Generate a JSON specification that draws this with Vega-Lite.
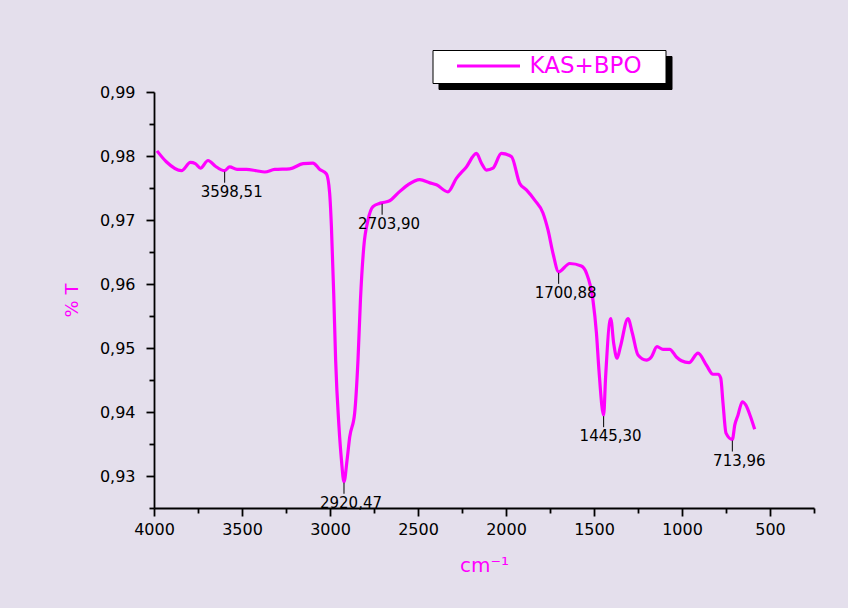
{
  "$schema": "https://vega.github.io/schema/vega-lite/v6.json",
  "autosize": "none",
  "width": 660,
  "height": 416,
  "padding": {"left": 154, "top": 92, "right": 34, "bottom": 100},
  "background": "#E4DFEC",
  "config": {
    "view": {"stroke": null},
    "font": "DejaVu Sans",
    "axis": {"grid": false, "domainColor": "black", "domainWidth": 1.8, "tickColor": "black", "tickWidth": 1.8, "labelFont": "DejaVu Sans", "labelColor": "black", "titleFont": "DejaVu Sans", "titleFontWeight": "normal", "titleColor": "#FF00FF"}
  },
  "datasets": {
    "spectrum": [
      {"wn": 3983, "t": 0.9808, "series": "KAS+BPO"},
      {"wn": 3930, "t": 0.9791, "series": "KAS+BPO"},
      {"wn": 3844, "t": 0.9777, "series": "KAS+BPO"},
      {"wn": 3793, "t": 0.9790, "series": "KAS+BPO"},
      {"wn": 3765, "t": 0.9788, "series": "KAS+BPO"},
      {"wn": 3736, "t": 0.9781, "series": "KAS+BPO"},
      {"wn": 3693, "t": 0.9793, "series": "KAS+BPO"},
      {"wn": 3651, "t": 0.9784, "series": "KAS+BPO"},
      {"wn": 3598.51, "t": 0.9777, "series": "KAS+BPO"},
      {"wn": 3570, "t": 0.9783, "series": "KAS+BPO"},
      {"wn": 3528, "t": 0.9779, "series": "KAS+BPO"},
      {"wn": 3475, "t": 0.9779, "series": "KAS+BPO"},
      {"wn": 3418, "t": 0.9777, "series": "KAS+BPO"},
      {"wn": 3371, "t": 0.9775, "series": "KAS+BPO"},
      {"wn": 3314, "t": 0.9779, "series": "KAS+BPO"},
      {"wn": 3229, "t": 0.9780, "series": "KAS+BPO"},
      {"wn": 3153, "t": 0.9788, "series": "KAS+BPO"},
      {"wn": 3097, "t": 0.9789, "series": "KAS+BPO"},
      {"wn": 3058, "t": 0.9779, "series": "KAS+BPO"},
      {"wn": 3020, "t": 0.9772, "series": "KAS+BPO"},
      {"wn": 3002, "t": 0.9742, "series": "KAS+BPO"},
      {"wn": 2992, "t": 0.9690, "series": "KAS+BPO"},
      {"wn": 2979, "t": 0.9586, "series": "KAS+BPO"},
      {"wn": 2968, "t": 0.9481, "series": "KAS+BPO"},
      {"wn": 2949, "t": 0.9377, "series": "KAS+BPO"},
      {"wn": 2935, "t": 0.9325, "series": "KAS+BPO"},
      {"wn": 2920.47, "t": 0.9291, "series": "KAS+BPO"},
      {"wn": 2903, "t": 0.9325, "series": "KAS+BPO"},
      {"wn": 2888, "t": 0.9361, "series": "KAS+BPO"},
      {"wn": 2860, "t": 0.9398, "series": "KAS+BPO"},
      {"wn": 2841, "t": 0.9481, "series": "KAS+BPO"},
      {"wn": 2827, "t": 0.9575, "series": "KAS+BPO"},
      {"wn": 2808, "t": 0.9658, "series": "KAS+BPO"},
      {"wn": 2784, "t": 0.9700, "series": "KAS+BPO"},
      {"wn": 2756, "t": 0.9721, "series": "KAS+BPO"},
      {"wn": 2718, "t": 0.9726, "series": "KAS+BPO"},
      {"wn": 2703.9, "t": 0.9727, "series": "KAS+BPO"},
      {"wn": 2661, "t": 0.9730, "series": "KAS+BPO"},
      {"wn": 2614, "t": 0.9742, "series": "KAS+BPO"},
      {"wn": 2557, "t": 0.9755, "series": "KAS+BPO"},
      {"wn": 2490, "t": 0.9763, "series": "KAS+BPO"},
      {"wn": 2433, "t": 0.9758, "series": "KAS+BPO"},
      {"wn": 2395, "t": 0.9755, "series": "KAS+BPO"},
      {"wn": 2330, "t": 0.9744, "series": "KAS+BPO"},
      {"wn": 2282, "t": 0.9765, "series": "KAS+BPO"},
      {"wn": 2225, "t": 0.9783, "series": "KAS+BPO"},
      {"wn": 2168, "t": 0.9804, "series": "KAS+BPO"},
      {"wn": 2140, "t": 0.9789, "series": "KAS+BPO"},
      {"wn": 2111, "t": 0.9778, "series": "KAS+BPO"},
      {"wn": 2074, "t": 0.9781, "series": "KAS+BPO"},
      {"wn": 2026, "t": 0.9804, "series": "KAS+BPO"},
      {"wn": 1969, "t": 0.9799, "series": "KAS+BPO"},
      {"wn": 1922, "t": 0.9757, "series": "KAS+BPO"},
      {"wn": 1884, "t": 0.9747, "series": "KAS+BPO"},
      {"wn": 1837, "t": 0.9731, "series": "KAS+BPO"},
      {"wn": 1790, "t": 0.9711, "series": "KAS+BPO"},
      {"wn": 1761, "t": 0.9684, "series": "KAS+BPO"},
      {"wn": 1733, "t": 0.9648, "series": "KAS+BPO"},
      {"wn": 1700.88, "t": 0.9619, "series": "KAS+BPO"},
      {"wn": 1638, "t": 0.9632, "series": "KAS+BPO"},
      {"wn": 1572, "t": 0.9628, "series": "KAS+BPO"},
      {"wn": 1543, "t": 0.9617, "series": "KAS+BPO"},
      {"wn": 1506, "t": 0.9575, "series": "KAS+BPO"},
      {"wn": 1486, "t": 0.9523, "series": "KAS+BPO"},
      {"wn": 1472, "t": 0.9466, "series": "KAS+BPO"},
      {"wn": 1445.3, "t": 0.9395, "series": "KAS+BPO"},
      {"wn": 1434, "t": 0.9455, "series": "KAS+BPO"},
      {"wn": 1405, "t": 0.9546, "series": "KAS+BPO"},
      {"wn": 1388, "t": 0.9507, "series": "KAS+BPO"},
      {"wn": 1369, "t": 0.9484, "series": "KAS+BPO"},
      {"wn": 1350, "t": 0.9502, "series": "KAS+BPO"},
      {"wn": 1307, "t": 0.9546, "series": "KAS+BPO"},
      {"wn": 1282, "t": 0.9523, "series": "KAS+BPO"},
      {"wn": 1250, "t": 0.9489, "series": "KAS+BPO"},
      {"wn": 1202, "t": 0.9481, "series": "KAS+BPO"},
      {"wn": 1174, "t": 0.9486, "series": "KAS+BPO"},
      {"wn": 1142, "t": 0.9502, "series": "KAS+BPO"},
      {"wn": 1108, "t": 0.9498, "series": "KAS+BPO"},
      {"wn": 1070, "t": 0.9498, "series": "KAS+BPO"},
      {"wn": 1032, "t": 0.9486, "series": "KAS+BPO"},
      {"wn": 1003, "t": 0.9480, "series": "KAS+BPO"},
      {"wn": 960, "t": 0.9477, "series": "KAS+BPO"},
      {"wn": 909, "t": 0.9492, "series": "KAS+BPO"},
      {"wn": 861, "t": 0.9473, "series": "KAS+BPO"},
      {"wn": 824, "t": 0.9459, "series": "KAS+BPO"},
      {"wn": 795, "t": 0.9459, "series": "KAS+BPO"},
      {"wn": 780, "t": 0.9453, "series": "KAS+BPO"},
      {"wn": 767, "t": 0.9414, "series": "KAS+BPO"},
      {"wn": 750, "t": 0.9367, "series": "KAS+BPO"},
      {"wn": 713.96, "t": 0.9357, "series": "KAS+BPO"},
      {"wn": 700, "t": 0.9380, "series": "KAS+BPO"},
      {"wn": 682, "t": 0.9395, "series": "KAS+BPO"},
      {"wn": 657, "t": 0.9416, "series": "KAS+BPO"},
      {"wn": 638, "t": 0.9411, "series": "KAS+BPO"},
      {"wn": 611, "t": 0.9393, "series": "KAS+BPO"},
      {"wn": 587, "t": 0.9373, "series": "KAS+BPO"}
    ],
    "peaks": [
      {"wn": 3598.51, "t": 0.9777, "label": "3598,51"},
      {"wn": 2920.47, "t": 0.9291, "label": "2920,47"},
      {"wn": 2703.9, "t": 0.9727, "label": "2703,90"},
      {"wn": 1700.88, "t": 0.9619, "label": "1700,88"},
      {"wn": 1445.3, "t": 0.9395, "label": "1445,30"},
      {"wn": 713.96, "t": 0.9357, "label": "713,96"}
    ]
  },
  "resolve": {"axis": {"x": "independent", "y": "independent"}},
  "layer": [
    {
      "data": {"name": "spectrum"},
      "mark": {"type": "line", "strokeWidth": 3.2, "interpolate": "monotone", "clip": false},
      "encoding": {
        "x": {"field": "wn", "type": "quantitative",
              "scale": {"domain": [4000, 250], "nice": false, "zero": false},
              "axis": {"orient": "bottom", "values": [4000, 3500, 3000, 2500, 2000, 1500, 1000, 500], "format": "d", "tickSize": 8, "labelFontSize": 16, "labelPadding": 5, "labelFlush": false, "title": "cm⁻¹", "titleFontSize": 20, "titlePadding": 18}},
        "y": {"field": "t", "type": "quantitative",
              "scale": {"domain": [0.925, 0.99], "nice": false, "zero": false},
              "axis": {"orient": "left", "values": [0.93, 0.94, 0.95, 0.96, 0.97, 0.98, 0.99], "labelExpr": "replace(format(datum.value, '.2f'), '.', ',')", "tickSize": 8, "labelFontSize": 16, "labelPadding": 11, "labelFlush": false, "title": "% T", "titleFontSize": 18, "titlePadding": 18}},
        "color": {"field": "series", "type": "nominal",
                  "scale": {"range": ["#FF00FF"]},
                  "legend": {"orient": "none", "legendX": 278.5, "legendY": -42, "title": ".", "titleOrient": "right", "titleFontSize": 6, "titleColor": "white", "titlePadding": 16, "fillColor": "white", "strokeColor": "black", "padding": 5, "clipHeight": 22, "symbolType": "stroke", "symbolSize": 3969, "symbolStrokeWidth": 3, "symbolOffset": 18, "labelFont": "DejaVu Sans", "labelFontSize": 23, "labelColor": "#FF00FF", "labelOffset": 8, "zindex": 2}},
        "opacity": {"datum": "shadow", "type": "nominal",
                  "scale": {"range": [1, 1]},
                  "legend": {"orient": "none", "legendX": 284.5, "legendY": -36, "title": ".", "titleOrient": "right", "titleFontSize": 6, "titleColor": "black", "titlePadding": 128, "fillColor": "black", "strokeColor": "black", "padding": 5, "clipHeight": 22, "symbolType": "stroke", "symbolSize": 3969, "symbolStrokeWidth": 3, "symbolOffset": 18, "symbolOpacity": 0, "labelExpr": "''", "labelFont": "DejaVu Sans", "labelFontSize": 23, "labelOpacity": 0, "labelOffset": 8, "zindex": 1}}
      }
    },
    {
      "data": {"name": "peaks"},
      "mark": {"type": "rule", "color": "black", "strokeWidth": 1, "yOffset": 1, "y2Offset": 12},
      "encoding": {
        "x": {"field": "wn", "type": "quantitative",
              "axis": {"orient": "bottom", "values": [3750, 3250, 2750, 2250, 1750, 1250, 750, 250], "labels": false, "domain": false, "tickSize": 5, "title": null}},
        "y": {"field": "t", "type": "quantitative",
              "axis": {"orient": "left", "values": [0.925, 0.935, 0.945, 0.955, 0.965, 0.975, 0.985], "labels": false, "domain": false, "tickSize": 5, "title": null}},
        "y2": {"field": "t"}
      }
    },
    {
      "data": {"name": "peaks"},
      "mark": {"type": "text", "color": "black", "font": "DejaVu Sans", "fontSize": 15, "baseline": "top", "align": "center", "dx": 7, "dy": 14},
      "encoding": {
        "x": {"field": "wn", "type": "quantitative", "axis": null},
        "y": {"field": "t", "type": "quantitative", "axis": null},
        "text": {"field": "label"}
      }
    }
  ]
}
